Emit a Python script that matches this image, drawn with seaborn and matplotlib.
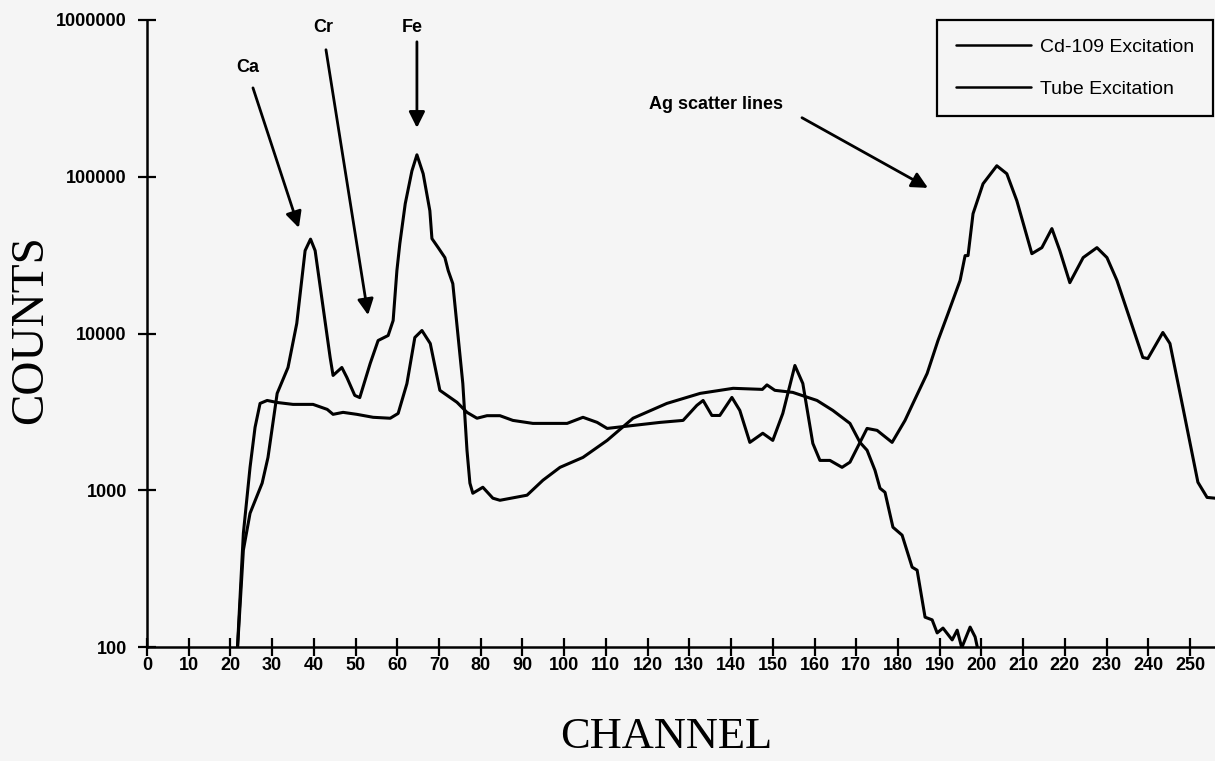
import matplotlib
matplotlib.use("Agg")
import matplotlib.pyplot as plt
import numpy as np
import pandas as pd
import seaborn as sns
from matplotlib.lines import Line2D
from matplotlib.ticker import FixedLocator, FixedFormatter, NullLocator

# ---------------- data ----------------
tube_channel = [21.5, 23.1, 24.7, 27.6, 29.0, 31.2, 33.8, 35.9, 37.9, 39.2,
                40.3, 43.9, 44.6, 46.7, 47.9, 49.8, 51.0, 53.5, 55.4, 57.8,
                59.0, 59.9, 60.6, 61.9, 63.5, 64.7, 66.2, 67.8, 68.3, 69.8,
                71.4, 72.2, 73.3, 75.7, 76.7, 77.4, 78.1, 80.5, 82.9, 84.6,
                91.1, 94.9, 99.0, 104.5, 110.3, 116.5, 124.6, 132.6, 140.5, 147.5,
                148.6, 150.5, 154.8, 160.6, 164.4, 168.5, 170.9, 172.6, 174.5, 175.7,
                176.9, 178.8, 181.0, 183.4, 184.6, 186.5, 188.2, 189.4, 190.8, 193.0,
                194.2, 195.3, 197.3, 198.5, 199.2]
tube_counts = [80, 415, 713, 1110, 1620, 4150, 6070, 11600, 33800, 40000,
               33800, 7030, 5400, 6070, 5250, 4030, 3900, 6440, 9020, 9710,
               12100, 25200, 37400, 67300, 109000, 138000, 104500, 60700, 40300, 35300,
               30500, 25200, 20800, 4800, 1800, 1110, 957, 1045, 890, 863,
               930, 1158, 1400, 1620, 2080, 2880, 3580, 4150, 4470, 4400,
               4700, 4340, 4210, 3740, 3230, 2670, 2020, 1800, 1340, 1030,
               970, 581, 517, 323, 309, 155, 149, 123, 132, 111,
               128, 99, 134, 116, 95]

cd_channel = [21.5, 23.1, 24.7, 25.9, 27.1, 28.8, 31.2, 35.0, 39.8, 43.2,
              44.6, 47.0, 50.3, 54.2, 58.3, 60.2, 62.3, 64.2, 65.9, 67.9,
              70.2, 74.3, 76.7, 79.1, 81.5, 84.6, 87.7, 92.5, 100.7, 104.5,
              107.9, 110.3, 116.5, 123.0, 128.5, 131.8, 133.3, 135.4, 137.3, 140.2,
              142.1, 144.5, 147.6, 150.0, 152.4, 155.3, 157.2, 159.6, 161.3, 163.7,
              166.6, 168.5, 172.6, 175.0, 178.6, 181.7, 183.6, 187.0, 189.6, 192.0,
              194.9, 196.1, 196.8, 198.0, 200.4, 203.7, 206.1, 208.5, 212.1, 214.5,
              216.9, 218.8, 221.2, 224.4, 227.7, 230.1, 232.5, 238.7, 239.9, 243.5,
              245.2, 248.3, 251.9, 254.1, 256.0]
cd_counts = [80, 532, 1400, 2520, 3580, 3740, 3630, 3530, 3530, 3280,
             3050, 3140, 3050, 2920, 2880, 3090, 4790, 9430, 10450, 8630,
             4340, 3640, 3140, 2880, 2990, 2990, 2790, 2670, 2670, 2920,
             2710, 2480, 2590, 2710, 2790, 3480, 3740, 3000, 3000, 3910,
             3230, 2020, 2310, 2080, 3090, 6250, 4800, 1990, 1550, 1550,
             1400, 1510, 2480, 2410, 2020, 2790, 3580, 5560, 9020, 13400,
             21800, 31400, 31400, 58100, 90200, 117500, 104500, 70300, 32300, 35300,
             46700, 33800, 21100, 30500, 35300, 30500, 21800, 7030, 6920, 10150,
             8630, 3380, 1125, 900, 890]

series_labels = ["Cd-109 Excitation", "Tube Excitation"]
x_ticks = list(range(0, 251, 10))
y_ticks = [100, 1000, 10000, 100000, 1000000]
y_tick_labels = ["100", "1000", "10000", "100000", "1000000"]
x_title = "CHANNEL"
y_title = "COUNTS"

# annotations: label, text position, arrow tail, arrow tip (data coords)
ann_labels = ["Ca", "Cr", "Fe", "Ag scatter lines"]
ann_text_pos = [(24.2, 495000), (42.2, 891000), (63.5, 891000), (136.4, 290000)]
ann_tail = [(25.4, 369000), (42.9, 646000), (64.7, 726000), (157.0, 238000)]
ann_tip = [(36.4, 47200), (53.0, 13100), (64.7, 205000), (187.2, 84900)]

# ---------------- build frame ----------------
df = pd.concat([
    pd.DataFrame({"channel": cd_channel, "counts": cd_counts, "series": series_labels[0]}),
    pd.DataFrame({"channel": tube_channel, "counts": tube_counts, "series": series_labels[1]}),
], ignore_index=True)

sns.set_theme(style="ticks")
plt.rcParams["font.family"] = ["Liberation Sans", "DejaVu Sans"]
plt.rcParams["text.color"] = "black"

BG = "#f5f5f5"
W, H = 1215, 761
fig = plt.figure(figsize=(W / 100, H / 100), dpi=100, facecolor=BG)
ax = fig.add_axes([147 / W, 1 - 647 / H, (W - 147) / W, (647 - 20) / H])
ax.set_facecolor(BG)

sns.lineplot(data=df, x="channel", y="counts", hue="series",
             palette=["black", "black"], estimator=None, sort=False,
             linewidth=2.2, legend=False, ax=ax)

ax.set_yscale("log")
ax.set_xlim(0, 256)
ax.set_ylim(100, 1000000)

ax.xaxis.set_major_locator(FixedLocator(x_ticks))
ax.xaxis.set_major_formatter(FixedFormatter([str(v) for v in x_ticks]))
ax.yaxis.set_major_locator(FixedLocator(y_ticks))
ax.yaxis.set_major_formatter(FixedFormatter(y_tick_labels))
ax.yaxis.set_minor_locator(NullLocator())
ax.xaxis.set_minor_locator(NullLocator())

for s in ["top", "right"]:
    ax.spines[s].set_visible(False)
for s in ["left", "bottom"]:
    ax.spines[s].set_linewidth(1.8)
    ax.spines[s].set_color("black")

ax.tick_params(axis="both", which="major", direction="inout", length=13,
               width=1.6, color="black", labelcolor="black")
ax.tick_params(axis="y", pad=8)
ax.tick_params(axis="x", pad=1)
for lab in ax.get_xticklabels() + ax.get_yticklabels():
    lab.set_fontweight("bold")
    lab.set_fontsize(13)

ax.set_xlabel("")
ax.set_ylabel("")
fig.text(666 / W, 1 - 737 / H, x_title, ha="center", va="center",
         family="Liberation Serif", fontsize=32, color="black")
fig.text(31 / W, 1 - 330 / H, y_title, ha="center", va="center", rotation=90,
         family="Liberation Serif", fontsize=34, color="black")

for lab, tp, tail, tip in zip(ann_labels, ann_text_pos, ann_tail, ann_tip):
    ax.text(tp[0], tp[1], lab, ha="center", va="center", fontsize=13,
            fontweight="bold", color="black")
    ax.annotate("", xy=tip, xytext=tail, xycoords="data", textcoords="data",
                arrowprops=dict(arrowstyle="-|>", color="black", lw=2,
                                mutation_scale=24, shrinkA=0, shrinkB=0))

handles = [Line2D([0], [0], color="black", lw=1.8) for _ in series_labels]
leg = fig.legend(handles, series_labels, loc="upper right",
                 bbox_to_anchor=(1213 / W, 1 - 20 / H), borderaxespad=0,
                 fancybox=False, frameon=True, edgecolor="black",
                 facecolor=BG, framealpha=1, fontsize=14,
                 handlelength=3.85, handletextpad=0.5, labelspacing=1.25,
                 borderpad=0.95)
leg.get_frame().set_linewidth(1.6)
for t in leg.get_texts():
    t.set_color("black")

fig.savefig("out.png", dpi=100, facecolor=BG)
